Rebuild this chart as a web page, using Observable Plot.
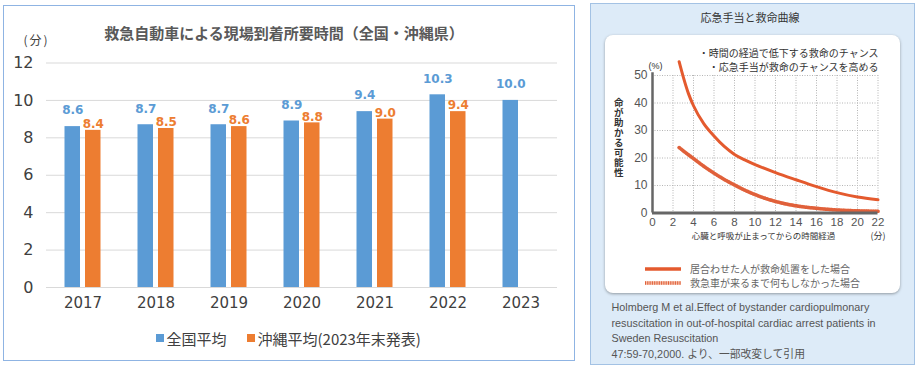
<!DOCTYPE html>
<html><head><meta charset="utf-8">
<script src="https://cdn.jsdelivr.net/npm/d3@7"></script>
<script src="https://cdn.jsdelivr.net/npm/@observablehq/plot@0.6"></script>
<style>
body{margin:0;background:#fff;}
#root{position:relative;width:918px;height:370px;overflow:hidden;font-family:"Noto Sans CJK JP",sans-serif;}
.abs{position:absolute;white-space:nowrap;line-height:1;}
svg{position:absolute;overflow:visible;}
</style></head><body><div id="root"></div>
<script>
// ---- Left chart data ----
const years = ["2017","2018","2019","2020","2021","2022","2023"];
const national = [8.6, 8.7, 8.7, 8.9, 9.4, 10.3, 10.0];
const okinawa = [8.4, 8.5, 8.6, 8.8, 9.0, 9.4, null];
const yTicksLeft = [0, 2, 4, 6, 8, 10, 12];
const seriesNames = ["全国平均", "沖縄平均(2023年末発表)"];
const leftTitle = "救急自動車による現場到着所要時間（全国・沖縄県）";

// ---- Right chart data ----
const cprMinutes = [2.6, 3, 3.5, 4, 5, 6, 7, 8, 9, 10, 12, 14, 16, 18, 20, 22];
const cprPct =     [55, 49.5, 43.5, 39, 32.5, 28, 24.2, 21.3, 19.3, 17.6, 14.7, 12.1, 9.6, 7.4, 5.8, 4.8];
const noCprMinutes = [2.6, 3, 4, 5, 6, 7, 8, 9, 10, 11, 12, 14, 16, 18, 20, 22];
const noCprPct =     [23.8, 22.6, 19.8, 17, 14.5, 12.2, 10.2, 8.3, 6.7, 5.3, 4.2, 2.6, 1.7, 1.1, 0.8, 0.6];
const xTicksRight = [0, 2, 4, 6, 8, 10, 12, 14, 16, 18, 20, 22];
const yTicksRight = [0, 10, 20, 30, 40, 50];
const rightTitle = "応急手当と救命曲線";
const yTitleRight = "命が助かる可能性";
const notes = ["・時間の経過で低下する救命のチャンス", "・応急手当が救命のチャンスを高める"];
const rightLegend = ["居合わせた人が救命処置をした場合", "救急車が来るまで何もしなかった場合"];
const citation = [
  "Holmberg M et al.Effect of bystander cardiopulmonary",
  "resuscitation in out-of-hospital cardiac arrest patients in",
  "Sweden Resuscitation",
  "47:59-70,2000. より、一部改変して引用"
];

const BLUE = "#5b9bd5", ORANGE = "#ed7d31";
const root = document.getElementById("root");

function box(x, y, w, h, style) {
  const d = document.createElement("div");
  d.className = "abs";
  Object.assign(d.style, {left: x + "px", top: y + "px", width: w + "px", height: h + "px", boxSizing: "border-box"}, style || {});
  root.appendChild(d);
  return d;
}
function label(text, x, y, style, anchor) {
  const d = document.createElement("div");
  d.className = "abs";
  d.textContent = text;
  const tx = anchor === "end" ? "-100%" : anchor === "start" ? "0" : "-50%";
  Object.assign(d.style, {left: x + "px", top: y + "px", transform: `translate(${tx},-50%)`}, style || {});
  root.appendChild(d);
  return d;
}

// ---- Left panel ----
box(3, 5, 572, 356, {border: "1.5px solid #8fb4e3", background: "#fff"});

const natData = years.map((y, i) => ({year: y, value: national[i]}));
const okiData = years.map((y, i) => ({year: y, value: okinawa[i]})).filter(d => d.value != null);

const left = Plot.plot({
  width: 580, height: 320,
  marginLeft: 46, marginRight: 23, marginTop: 62.5, marginBottom: 33,
  style: {fontFamily: "DejaVu Sans", color: "#404040", background: "transparent"},
  x: {domain: years, padding: 0},
  y: {domain: [0, 12]},
  marks: [
    Plot.gridY(yTicksLeft, {stroke: "#d9d9d9", strokeOpacity: 1}),
    Plot.axisY(yTicksLeft, {tickSize: 0, tickPadding: 13, fontSize: 16, label: null}),
    Plot.axisX({tickSize: 0, tickPadding: 10, fontSize: 15, label: null}),
    Plot.barY(natData, {x: "year", y: "value", fill: BLUE, insetLeft: 18.5, insetRight: 39}),
    Plot.barY(okiData, {x: "year", y: "value", fill: ORANGE, insetLeft: 39, insetRight: 18.5}),
    Plot.text(natData, {x: "year", y: "value", text: d => d.value.toFixed(1), dx: -10.25, dy: -16, fill: BLUE, fontWeight: "bold", fontSize: 12}),
    Plot.text(okiData, {x: "year", y: "value", text: d => d.value.toFixed(1), dx: 10.25, dy: -6, fill: ORANGE, fontWeight: "bold", fontSize: 12})
  ]
});
left.style.left = "0px"; left.style.top = "0px";
root.appendChild(left);

label(leftTitle, 284, 32, {fontSize: "15px", fontWeight: "bold", color: "#595959"});
label("(分)", 36.5, 40, {fontSize: "12px", color: "#404040", letterSpacing: "2px"});

// left legend
box(155.5, 334, 8, 8, {background: BLUE});
label(seriesNames[0], 166.5, 338, {fontSize: "15px", color: "#404040"}, "start");
box(246.5, 334, 8, 8, {background: ORANGE});
label(seriesNames[1], 257.5, 338, {fontSize: "15px", color: "#404040"}, "start");

// ---- Right panel ----
box(590, 3, 325, 362, {border: "1.5px solid #a3c2e4", background: "#ddebf8"});
box(605, 35, 295, 258, {background: "#fff", borderRadius: "8px", boxShadow: "0 1px 3px rgba(0,0,0,0.35)"});
label(rightTitle, 750, 17, {fontSize: "11px", color: "#333"});

const cpr = cprMinutes.map((m, i) => ({m, p: cprPct[i]}));
const noCpr = noCprMinutes.map((m, i) => ({m, p: noCprPct[i]}));
const cjk = "Noto Sans CJK JP";

const right = Plot.plot({
  width: 328, height: 245,
  marginLeft: 62, marginRight: 40.5, marginTop: 75, marginBottom: 32.5,
  style: {fontFamily: "Liberation Sans", color: "#555", background: "transparent"},
  x: {domain: [0, 22]},
  y: {domain: [0, 50]},
  marks: [
    Plot.gridX(xTicksRight.slice(1), {stroke: "#b5b5b5", strokeOpacity: 1, strokeDasharray: "1,1.5"}),
    Plot.gridY(yTicksRight.slice(1), {stroke: "#b5b5b5", strokeOpacity: 1, strokeDasharray: "1,1.5"}),
    Plot.line(noCpr, {x: "m", y: "p", stroke: "#f5bca6", strokeWidth: 3.5, curve: "monotone-x"}),
    Plot.line(noCpr, {x: "m", y: "p", stroke: "#e0603a", strokeWidth: 3.5, strokeDasharray: "1,1.3", curve: "monotone-x"}),
    Plot.line(cpr, {x: "m", y: "p", stroke: "#e45a2e", strokeWidth: 3, curve: "monotone-x"}),
    Plot.ruleX([0], {stroke: "#666", strokeWidth: 2.5, y1: 0, y2: 51}),
    Plot.ruleY([0], {stroke: "#666", strokeWidth: 3}),
    Plot.axisX(xTicksRight, {tickSize: 0, tickPadding: 5, fontSize: 11.5, label: null}),
    Plot.axisY(yTicksRight, {tickSize: 0, tickPadding: 5, fontSize: 12, label: null}),
    Plot.text(["(%)"], {text: d => d, frameAnchor: "top-left", dx: -4, dy: -13, fontSize: 9, fill: "#333"}),
    Plot.text([notes[0]], {text: d => d, frameAnchor: "top-right", textAnchor: "end", dx: 0.5, dy: -26, fontSize: 10, fill: "#333", fontFamily: cjk}),
    Plot.text([notes[1]], {text: d => d, frameAnchor: "top-right", textAnchor: "end", dx: 0.5, dy: -12, fontSize: 10, fill: "#333", fontFamily: cjk}),
    Plot.text(["心臓と呼吸が止まってからの時間経過"], {text: d => d, frameAnchor: "bottom", dx: -1.75, dy: 26, fontSize: 8.5, fill: "#333", fontFamily: cjk}),
    Plot.text(["(分)"], {text: d => d, frameAnchor: "bottom-right", textAnchor: "middle", dx: 0, dy: 26, fontSize: 9, fill: "#333", fontFamily: cjk})
  ]
});
right.style.left = "590px"; right.style.top = "0px";
root.appendChild(right);

// vertical y-axis title (single text, vertical writing)
const yt = label(yTitleRight, 618, 138, {fontSize: "9.5px", fontWeight: "bold", color: "#333", writingMode: "vertical-rl", letterSpacing: "0.5px"});
yt.style.transform = "translate(-50%,-50%)";

// right legend
function legendLine(y, dashed) {
  const ns = "http://www.w3.org/2000/svg";
  const s = document.createElementNS(ns, "svg");
  s.setAttribute("width", 36); s.setAttribute("height", 6);
  s.style.left = "645px"; s.style.top = (y - 3) + "px";
  const mk = (stroke, dash) => {
    const l = document.createElementNS(ns, "line");
    l.setAttribute("x1", 0); l.setAttribute("x2", 36); l.setAttribute("y1", 3); l.setAttribute("y2", 3);
    l.setAttribute("stroke", stroke); l.setAttribute("stroke-width", 3.5);
    if (dash) l.setAttribute("stroke-dasharray", dash);
    s.appendChild(l);
  };
  if (dashed) { mk("#f5bca6"); mk("#e0603a", "1,1.3"); } else mk("#e45a2e");
  root.appendChild(s);
}
legendLine(269, false);
legendLine(283, true);
label(rightLegend[0], 690, 269, {fontSize: "10px", color: "#666"}, "start");
label(rightLegend[1], 690, 283, {fontSize: "10px", color: "#666"}, "start");

citation.forEach((t, i) => label(t, 611.5, 307 + i * 15.5, {fontSize: "10.8px", color: "#555", fontFamily: "Liberation Sans, 'Noto Sans CJK JP'"}, "start"));
</script>
</body></html>
